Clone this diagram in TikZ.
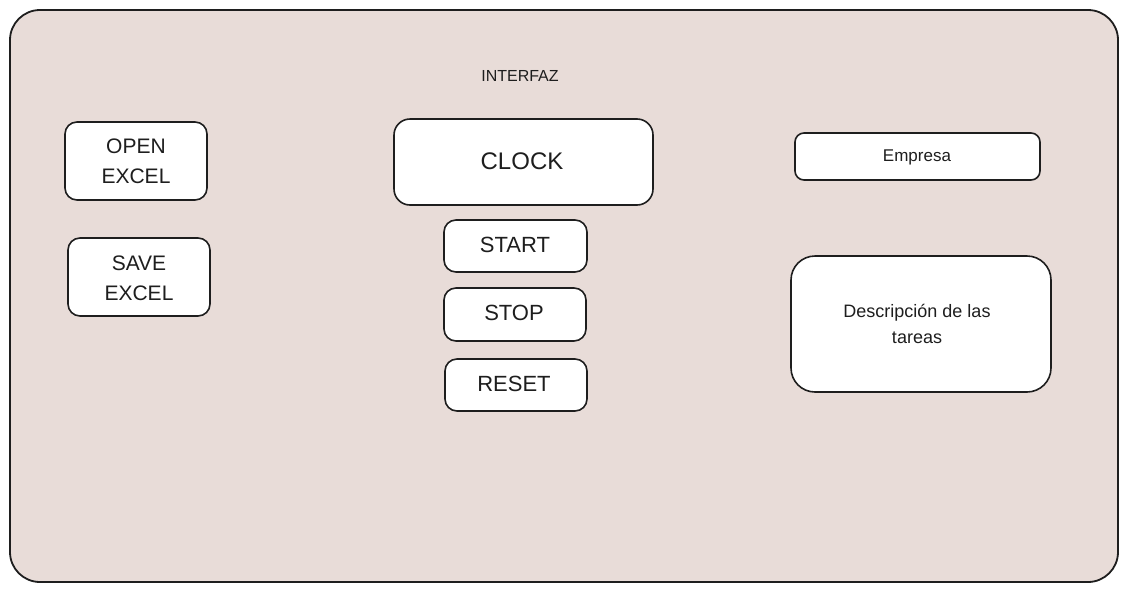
\documentclass[tikz,border=0pt]{standalone}
\usepackage{fontspec}
\setmainfont{Liberation Sans}
\definecolor{bgpink}{HTML}{E8DCD8}
\definecolor{ink}{HTML}{1E1E1E}
\begin{document}
\begin{tikzpicture}[x=1pt,y=-1pt,
  panel/.style={draw=ink,line width=1.8pt,fill=bgpink,rounded corners=30pt},
  btn/.style={draw=ink,line width=1.6pt,fill=white,rounded corners=12pt},
  lbl/.style={text=ink,align=center,font=#1},
  lbl/.default=\fontsize{20}{26}\selectfont]
\useasboundingbox (0,0) rectangle (1127,592);
\fill[white] (0,0) rectangle (1127,592);
\draw[panel] (10,10) rectangle (1118,582);
\node[lbl=\fontsize{16}{18}\selectfont] (title) at (520,76) {INTERFAZ};
% left column
\draw[btn] (65,122) rectangle (207,200);
\node[lbl=\fontsize{21}{30}\selectfont] (open) at (136,161) {OPEN\\EXCEL};
\draw[btn] (68,238) rectangle (210,316);
\node[lbl=\fontsize{21}{30}\selectfont] (save) at (139,278) {SAVE\\EXCEL};
% center column
\draw[btn,rounded corners=16pt] (394,119) rectangle (653,205);
\node[lbl=\fontsize{24}{26}\selectfont] (clock) at (522,161) {CLOCK};
\draw[btn] (444,220) rectangle (587,272);
\node[lbl=\fontsize{22}{26}\selectfont] (start) at (515,245) {START};
\draw[btn] (444,288) rectangle (586,341);
\node[lbl=\fontsize{22}{26}\selectfont] (stop) at (514,313) {STOP};
\draw[btn] (445,359) rectangle (587,411);
\node[lbl=\fontsize{22}{26}\selectfont] (reset) at (514,384) {RESET};
% right column
\draw[btn,rounded corners=9pt] (795,133) rectangle (1040,180);
\node[lbl=\fontsize{17}{18}\selectfont] (emp) at (917,157) {Empresa};
\draw[btn,rounded corners=24pt] (791,256) rectangle (1051,392);
\node[lbl=\fontsize{18}{26}\selectfont] (desc) at (917,324) {Descripción de las\\tareas};
\end{tikzpicture}
\end{document}
